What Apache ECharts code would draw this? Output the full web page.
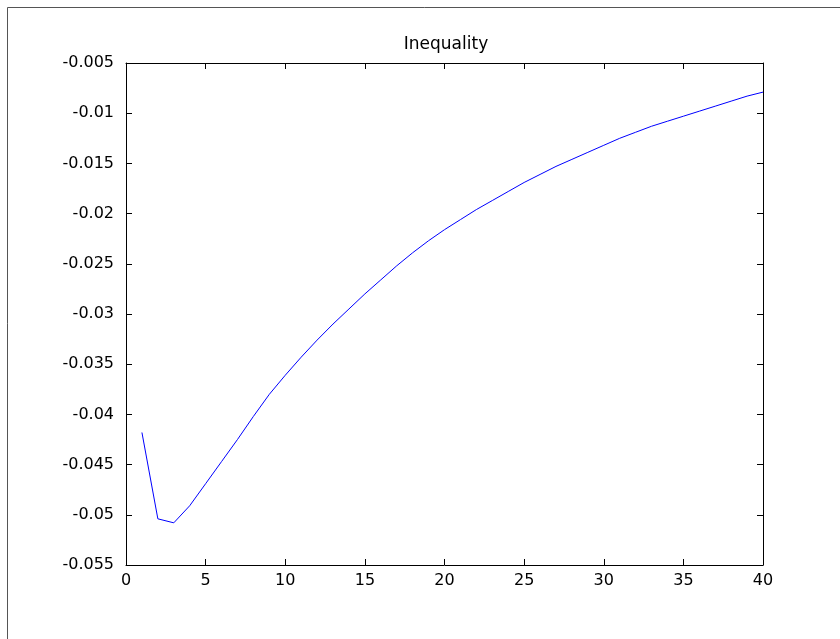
<!DOCTYPE html>
<html>
<head>
<meta charset="utf-8">
<script src="https://cdn.jsdelivr.net/npm/echarts@6/dist/echarts.min.js"></script>
<style>
  html, body { margin: 0; padding: 0; background: #fff; }
  #chart { width: 840px; height: 639px; }
</style>
</head>
<body>
<div id="chart"></div>
<script>
const title = 'Inequality';
const periods = [1, 2, 3, 4, 5, 6, 7, 8, 9, 10, 11, 12, 13, 14, 15, 16, 17, 18, 19, 20,
  21, 22, 23, 24, 25, 26, 27, 28, 29, 30, 31, 32, 33, 34, 35, 36, 37, 38, 39, 40];
const inequality = [-0.0418, -0.0504, -0.0508, -0.0491, -0.0469, -0.0447, -0.0425, -0.0402, -0.0380, -0.0361,
  -0.0343, -0.0326, -0.0310, -0.0295, -0.0280, -0.0266, -0.0252, -0.0239, -0.0227, -0.0216,
  -0.0206, -0.0196, -0.0187, -0.0178, -0.0169, -0.0161, -0.0153, -0.0146, -0.0139, -0.0132,
  -0.0125, -0.0119, -0.0113, -0.0108, -0.0103, -0.0098, -0.0093, -0.0088, -0.0083, -0.0079];
const xTicks = { min: 0, max: 40, step: 5 };
const yTicks = { min: -0.055, max: -0.005, step: 0.005 };

const chart = echarts.init(document.getElementById('chart'), null, { renderer: 'canvas' });

const font = 'DejaVu Sans, sans-serif';
const frameAxis = {
  axisLine: { show: true, onZero: false, lineStyle: { color: '#000', width: 1 } },
  axisTick: { show: true, inside: true, length: 6, lineStyle: { color: '#000' } },
  splitLine: { show: false },
};

chart.setOption({
  backgroundColor: '#fff',
  animation: false,
  title: {
    text: title,
    left: 441,
    textAlign: 'center',
    top: 31,
    textStyle: { fontFamily: font, fontSize: 17, fontWeight: 'normal', color: '#000' },
  },
  graphic: [{
    type: 'rect',
    shape: { x: 7.5, y: 7.5, width: 900, height: 700 },
    style: { fill: 'none', stroke: '#555', lineWidth: 1 },
    silent: true,
  }],
  grid: { left: 126, right: 77, top: 63, bottom: 74, containLabel: false },
  xAxis: [{
    type: 'value',
    position: 'bottom',
    min: xTicks.min,
    max: xTicks.max,
    interval: xTicks.step,
    ...frameAxis,
    axisLabel: { color: '#000', fontFamily: font, fontSize: 16, margin: 8 },
  }, {
    type: 'value',
    position: 'top',
    min: xTicks.min,
    max: xTicks.max,
    interval: xTicks.step,
    ...frameAxis,
    axisLabel: { show: false },
  }],
  yAxis: [{
    type: 'value',
    position: 'left',
    min: yTicks.min,
    max: yTicks.max,
    interval: yTicks.step,
    ...frameAxis,
    axisLabel: {
      color: '#000', fontFamily: font, fontSize: 16, margin: 12,
      formatter: v => String(parseFloat(v.toFixed(3))),
    },
  }, {
    type: 'value',
    position: 'right',
    min: yTicks.min,
    max: yTicks.max,
    interval: yTicks.step,
    ...frameAxis,
    axisLabel: { show: false },
  }],
  series: [{
    type: 'line',
    data: periods.map((p, i) => [p, inequality[i]]),
    showSymbol: false,
    lineStyle: { color: '#0000ff', width: 1 },
    itemStyle: { color: '#0000ff' },
  }],
});
</script>
</body>
</html>
